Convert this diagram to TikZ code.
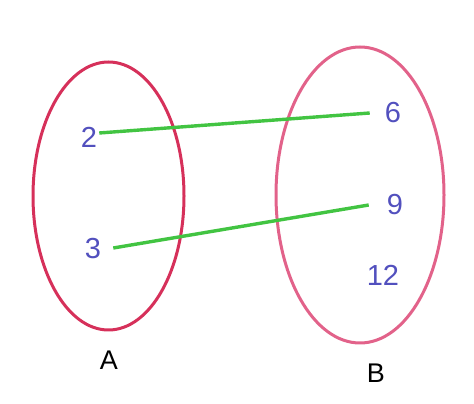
\documentclass[tikz,border=0pt]{standalone}
\usepackage{fontspec}
\setmainfont{Liberation Sans}
\usetikzlibrary{positioning}
\definecolor{setAcol}{RGB}{214,48,90}
\definecolor{setBcol}{RGB}{226,98,138}
\definecolor{numcol}{RGB}{82,80,190}
\definecolor{linkcol}{RGB}{66,196,66}

\begin{document}
\begin{tikzpicture}[x=1pt,y=1pt,
  num/.style={text=numcol,inner sep=0pt,font=\fontsize{29}{31}\selectfont},
  setname/.style={inner sep=0pt,font=\fontsize{27}{29}\selectfont},
  link/.style={draw=linkcol,line width=3.4pt}]
\useasboundingbox (0,0) rectangle (474,404);
% the two sets
\draw[setAcol,line width=3pt] (108.5,208) ellipse (75.5 and 134);
\draw[setBcol,line width=3pt] (360,209) ellipse (84 and 148);
\node[setname] (A) at (109,44) {A};
\node[setname] (B) at (376,31) {B};
% elements
\node[num] (n2) at (89,267) {2};
\node[num] (n3) at (93,155) {3};
\node[num] (n6) at (393,291) {6};
\node[num] (n9) at (395,199) {9};
\node[num] (n12) at (383,129) {12};
% mapping
\draw[link] ([xshift=2pt,yshift=4pt]n2.east) -- ([xshift=-15pt]n6.west);
\draw[link] ([xshift=12pt,yshift=1pt]n3.east) -- ([xshift=-18pt]n9.west);
\end{tikzpicture}
\end{document}
